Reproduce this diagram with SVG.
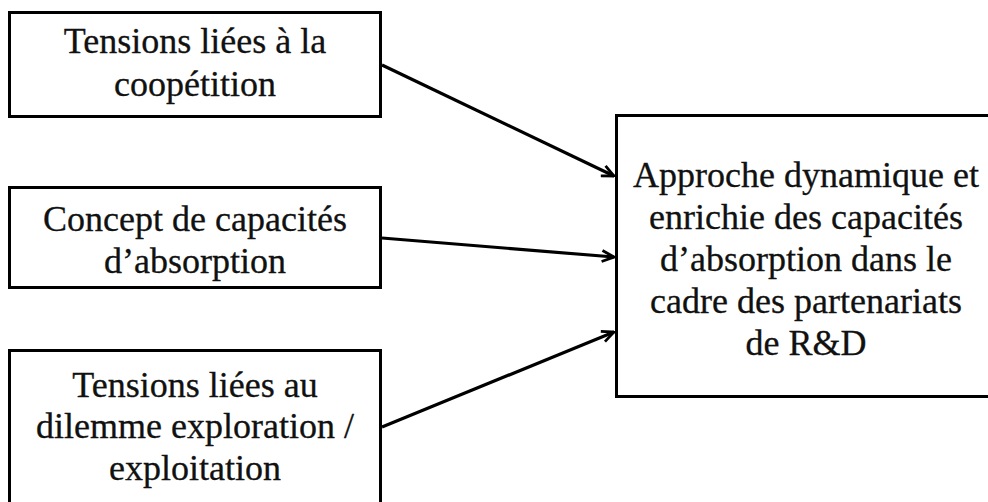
<svg xmlns="http://www.w3.org/2000/svg" width="988" height="502" viewBox="0 0 988 502">
  <style>
    .box { fill: #ffffff; stroke: #000000; stroke-width: 3; }
    .lbl { font-family: "Liberation Serif", "Times New Roman", serif; font-size: 36px; fill: #111111; stroke: #111111; stroke-width: 0.3; text-anchor: middle; }
    .conn { stroke: #000000; stroke-width: 3.2; fill: none; marker-end: url(#arr); }
  </style>
  <defs>
    <marker id="arr" viewBox="0 0 14 14" refX="13" refY="7" markerWidth="14" markerHeight="14" markerUnits="userSpaceOnUse" orient="auto">
      <path d="M1,1.5 L13,7 L1,12.5" fill="none" stroke="#000" stroke-width="2.8" stroke-linejoin="miter"/>
    </marker>
  </defs>
  <rect width="988" height="502" fill="#ffffff"/>
  <g id="node-coopetition">
    <rect class="box" x="9.5" y="12.5" width="371" height="104"/>
    <text class="lbl" x="195" y="53">Tensions liées à la</text>
    <text class="lbl" x="195" y="96">coopétition</text>
  </g>
  <g id="node-absorption">
    <rect class="box" x="9.5" y="187.5" width="371" height="100"/>
    <text class="lbl" x="195" y="231">Concept de capacités</text>
    <text class="lbl" x="195" y="273">d’absorption</text>
  </g>
  <g id="node-exploration">
    <rect class="box" x="9.5" y="350.5" width="371" height="160"/>
    <text class="lbl" x="195" y="397">Tensions liées au</text>
    <text class="lbl" x="195" y="438">dilemme exploration /</text>
    <text class="lbl" x="195" y="480">exploitation</text>
  </g>
  <g id="node-result">
    <rect class="box" x="616.5" y="115.5" width="390" height="281"/>
    <text class="lbl" x="806" y="187">Approche dynamique et</text>
    <text class="lbl" x="806" y="229">enrichie des capacités</text>
    <text class="lbl" x="806" y="271">d’absorption dans le</text>
    <text class="lbl" x="806" y="313">cadre des partenariats</text>
    <text class="lbl" x="806" y="355">de R&amp;D</text>
  </g>
  <g id="connectors">
    <line class="conn" x1="382" y1="65" x2="614" y2="176"/>
    <line class="conn" x1="382" y1="238" x2="614" y2="257"/>
    <line class="conn" x1="382" y1="427" x2="614" y2="332"/>
  </g>
</svg>
